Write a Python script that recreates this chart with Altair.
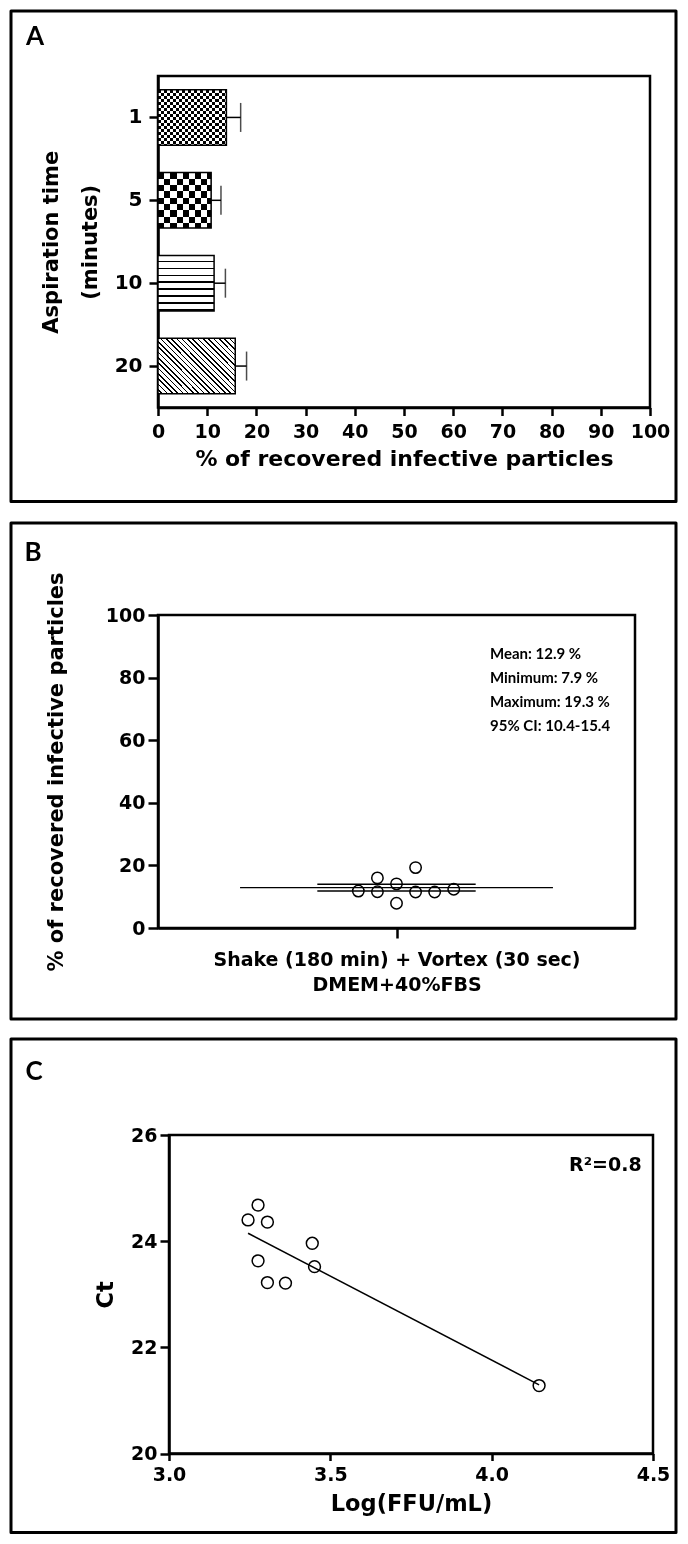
import altair as alt
import pandas as pd

# ---------------- data ----------------
aspiration_times = ["1", "5", "10", "20"]
recovery_mean = [13.9, 10.8, 11.4, 15.7]
recovery_sd = [2.9, 2.0, 2.3, 2.3]
a_x_ticks = [0, 10, 20, 30, 40, 50, 60, 70, 80, 90, 100]
a_x_title = "% of recovered infective particles"
a_y_title = ["Aspiration time", "(minutes)"]

b_recovery = [11.8, 16.0, 11.6, 14.1, 7.9, 19.3, 11.5, 11.5, 12.4]
b_jitter = [-2, -1, -1, 0, 0, 1, 1, 2, 3]
b_y_ticks = [0, 20, 40, 60, 80, 100]
b_x_title = ["Shake (180 min) + Vortex (30 sec)", "DMEM+40%FBS"]
b_y_title = "% of recovered infective particles"
b_stats = ["Mean: 12.9 %", "Minimum: 7.9 %", "Maximum: 19.3 %", "95% CI: 10.4-15.4"]

c_log_ffu = [3.245, 3.276, 3.305, 3.444, 3.276, 3.451, 3.305, 3.361, 4.147]
c_ct = [24.40, 24.68, 24.36, 23.96, 23.63, 23.52, 23.22, 23.21, 21.28]
c_x_ticks = [3.0, 3.5, 4.0, 4.5]
c_y_ticks = [20, 22, 24, 26]
c_x_title = "Log(FFU/mL)"
c_y_title = "Ct"
c_r2 = "R²=0.8"

# ---------------- styling helpers ----------------
FONT = "DejaVu Sans, Verdana, sans-serif"
LFONT = "Lato, Liberation Sans, sans-serif"
one = pd.DataFrame({"k": [0]})


def axis(**kw):
    base = dict(labelFont=FONT, labelFontSize=19, labelFontWeight="bold", labelColor="black",
                titleFont=FONT, titleFontSize=22, titleFontWeight="bold", titleColor="black",
                domainColor="black", domainWidth=2.5, tickColor="black", tickWidth=2.5,
                tickSize=9, grid=False, labelPadding=5, labelOverlap=False, labelFlush=False)
    base.update(kw)
    return alt.Axis(**base)


def stripes(periods, on_frac, on="black", off="white"):
    stops = []
    i = 0
    while i < periods:
        a = i / periods
        m = min((i + 1 - on_frac) / periods, 1.0)
        b = min((i + 1) / periods, 1.0)
        stops += [{"offset": a, "color": off}, {"offset": m, "color": off},
                  {"offset": m, "color": on}, {"offset": b, "color": on}]
        i += 1
    return stops


def grad(stops, x1, y1, x2, y2):
    return {"gradient": "linear", "x1": x1, "y1": y1, "x2": x2, "y2": y2, "stops": stops}


def frame(x, x2, y, y2):
    return alt.Chart(one).mark_rect(fill="transparent", stroke="black", strokeWidth=3,
                                    strokeJoin="round").encode(
        x=alt.value(x), x2=alt.value(x2), y=alt.value(y), y2=alt.value(y2))


def letter(t, x, y):
    return alt.Chart(one).mark_text(text=t, font=LFONT, fontSize=26, fontWeight="bold",
                                    align="center", baseline="middle", color="black").encode(
        x=alt.value(x), y=alt.value(y))


# ---------------- panel A ----------------
df_a = pd.DataFrame({"time": aspiration_times, "value": recovery_mean, "sd": recovery_sd})


def xa(field):
    return alt.X(field, type="quantitative", scale=alt.Scale(domain=[0, 100], nice=False),
                 axis=axis(values=a_x_ticks, title=a_x_title, titlePadding=7, labelPadding=7,
                           tickSize=8))


ya = alt.Y("time:N", scale=alt.Scale(domain=aspiration_times, paddingInner=0.33, paddingOuter=0.165),
           axis=axis(title=a_y_title, titleFontSize=21, titleLineHeight=39, titlePadding=14,
                     labelPadding=7, labelFontSize=20))

base_a = alt.Chart(df_a).encode(x=xa("value"), y=ya)


def bar(t, fill, **kw):
    return base_a.transform_filter(alt.datum.time == t).mark_bar(fill=fill, strokeWidth=0, **kw)


r20 = 0.714
k20 = (1 + r20) / (1 + r20 * r20)
layers_a = [
    frame(-147, 518, -65, 425.5),
    letter("A", -123, -39),
    bar("1", grad(stripes(11.3, 0.5), 0, 0, 1, 0)),
    bar("1", grad(stripes(9.2, 0.5), 0, 0, 0, 1), blend="difference"),
    bar("5", grad(stripes(4.3, 0.5), 0, 0, 1, 0)),
    bar("5", grad(stripes(4.4, 0.5), 0, 0, 0, 1), blend="difference"),
    bar("10", grad(stripes(8, 0.25), 0, 0, 0, 1)),
    bar("20", grad(stripes(25, 0.3), 0, 1, k20, 1 - k20 * r20)),
    base_a.mark_bar(fill="transparent", stroke="black", strokeWidth=1.5),
    base_a.transform_calculate(upper="datum.value + datum.sd").mark_rule(
        color="black", strokeWidth=1.5).encode(x2="upper:Q"),
    alt.Chart(df_a).transform_calculate(upper="datum.value + datum.sd").mark_tick(
        color="black", thickness=1.5, size=29).encode(x=xa("upper"), y=ya),
]
panel_a = alt.layer(*layers_a).properties(width=492, height=331.5)

# ---------------- panel B ----------------
df_b = pd.DataFrame({"recovery": b_recovery, "jitter": b_jitter})


def xb(field):
    return alt.X(field, type="quantitative", scale=alt.Scale(domain=[-12.5, 12.5], nice=False, zero=False),
                 axis=axis(values=[0], labels=False, title=b_x_title, titleFontSize=19,
                           titleLineHeight=25, titlePadding=11, tickSize=10))


def yb(field):
    return alt.Y(field, type="quantitative", scale=alt.Scale(domain=[0, 100], nice=False),
                 axis=axis(values=b_y_ticks, title=b_y_title, titleFontSize=21, titlePadding=39,
                           labelPadding=3, tickSize=10))


pts_b = alt.Chart(df_b).mark_point(shape="circle", filled=False, color="black", strokeWidth=1.5,
                                   size=130, opacity=1).encode(x=xb("jitter"), y=yb("recovery"))
mean_b = alt.Chart(df_b).transform_aggregate(m="mean(recovery)").mark_rule(
    color="black", strokeWidth=1.3).encode(x=alt.datum(-8.2), x2=alt.datum(8.2), y=yb("m"))
sem_b = (alt.Chart(df_b)
         .transform_aggregate(m="mean(recovery)", se="stderr(recovery)")
         .transform_calculate(lo="datum.m - datum.se", hi="datum.m + datum.se")
         .transform_fold(["lo", "hi"], as_=["k", "v"])
         .mark_rule(color="black", strokeWidth=1.3)
         .encode(x=alt.datum(-4.15), x2=alt.datum(4.15), y=yb("v")))
stats_b = alt.Chart(one).mark_text(text="\n".join(b_stats), lineBreak="\n", align="left", baseline="top",
                                   font=LFONT, fontSize=15, fontWeight="bold", lineHeight=24,
                                   color="black").encode(x=alt.datum(4.9), y=alt.datum(89.8))
panel_b = alt.layer(frame(-147, 518, -92, 404), letter("B", -125, -62.5),
                    pts_b, mean_b, sem_b, stats_b).properties(width=477, height=313)

# ---------------- panel C ----------------
df_c = pd.DataFrame({"log_ffu": c_log_ffu, "ct": c_ct})
c_w, c_h, c_in = 495, 318.5, 11
xc = alt.X("log_ffu:Q", scale=alt.Scale(domain=[3, 4.5], nice=False, zero=False, range=[c_in, c_w]),
           axis=axis(values=c_x_ticks, format=".1f", title=c_x_title, titlePadding=8, tickSize=7,
                     labelPadding=5, titleFontSize=22.5))
yc = alt.Y("ct:Q", scale=alt.Scale(domain=[20, 26], nice=False, zero=False),
           axis=axis(values=c_y_ticks, format="d", title=c_y_title, titlePadding=13, offset=-c_in,
                     labelPadding=3, titleFontSize=22.5))
box_c = alt.Chart(one).mark_rect(fill="transparent", stroke="black", strokeWidth=2.5).encode(
    x=alt.datum(c_x_ticks[0]), x2=alt.datum(c_x_ticks[-1]), y=alt.datum(c_y_ticks[0]), y2=alt.datum(c_y_ticks[-1]))
pts_c = alt.Chart(df_c).mark_point(shape="circle", filled=False, color="black", strokeWidth=1.5,
                                   size=140, opacity=1).encode(x=xc, y=yc)
reg_c = alt.Chart(df_c).transform_regression("log_ffu", "ct").mark_line(
    color="black", strokeWidth=1.5).encode(x=xc, y=yc)
r2_c = alt.Chart(one).mark_text(text=c_r2, align="left", baseline="middle", font=FONT, fontSize=19,
                                fontWeight="bold", color="black").encode(x=alt.datum(4.24), y=alt.datum(25.44))
panel_c = alt.layer(pts_c, frame(-147, 518, -96, 397.5), letter("C", -124, -63.5),
                    reg_c, box_c, r2_c).properties(
    width=c_w, height=c_h, view=alt.ViewBackground(stroke="transparent"))

chart = (alt.concat(panel_a, panel_b, panel_c, columns=1, spacing=207, bounds="flush")
         .properties(padding=0, background="white")
         .configure_view(stroke="black", strokeWidth=2.5))

chart.save("out.html", embed_options={"renderer": "svg", "actions": False})
